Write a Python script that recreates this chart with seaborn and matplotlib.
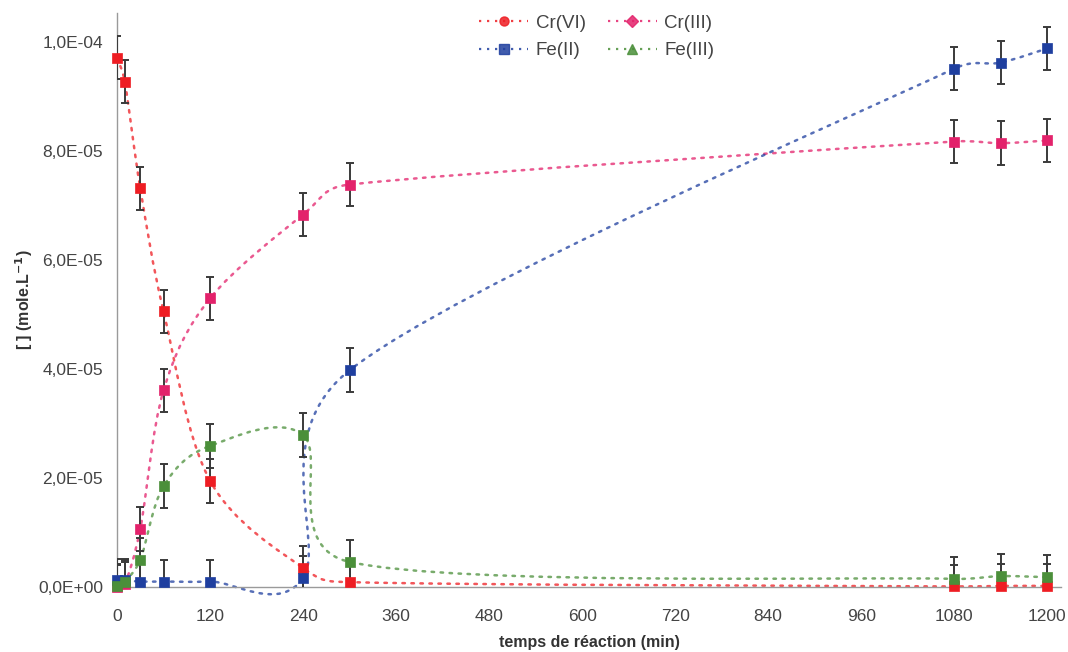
import matplotlib
matplotlib.use('Agg')
import matplotlib.pyplot as plt
from matplotlib.path import Path
from matplotlib.patches import PathPatch
from matplotlib.lines import Line2D
from matplotlib.ticker import FuncFormatter
import numpy as np
import seaborn as sns

# Data (concentrations in mole/L)
temps = [0, 10, 30, 60, 120, 240, 300, 1080, 1140, 1200]
cr6 = [9.72e-5, 9.28e-5, 7.32e-5, 5.06e-5, 1.95e-5, 3.5e-6, 9.0e-7, 1.0e-7, 2.0e-7, 2.0e-7]
cr3 = [0.0, 5.0e-7, 1.07e-5, 3.61e-5, 5.30e-5, 6.84e-5, 7.39e-5, 8.18e-5, 8.15e-5, 8.20e-5]
fe2 = [1.2e-6, 1.2e-6, 1.0e-6, 1.0e-6, 1.0e-6, 1.7e-6, 3.98e-5, 9.52e-5, 9.63e-5, 9.89e-5]
fe3 = [2.0e-7, 1.0e-6, 5.0e-6, 1.85e-5, 2.59e-5, 2.79e-5, 4.6e-6, 1.5e-6, 2.0e-6, 1.8e-6]
err = 4.0e-6

labels = ['Cr(VI)', 'Cr(III)', 'Fe(II)', 'Fe(III)']
series = [cr6, cr3, fe2, fe3]
colors = ['#ee1d23', '#e3226b', '#1f3f9f', '#4b8f3a']
leg_markers = ['o', 'D', 's', '^']

sns.set_theme(style='white')
plt.rcParams['font.family'] = ['Liberation Sans', 'DejaVu Sans']

fig = plt.figure(figsize=(10.68, 6.52), dpi=100)
ax = fig.add_axes([0.1096, 0.0997, 0.8840, 0.8803])
xmin, xmax = 0, 1218
ymin, ymax = 0, 1.054e-4
ax.set_xlim(xmin, xmax)
ax.set_ylim(ymin, ymax)

# pixels per data unit, used so the smoothing behaves like Excel's (screen space)
bb = ax.get_position()
sx = bb.width * fig.get_figwidth() * fig.dpi / (xmax - xmin)
sy = bb.height * fig.get_figheight() * fig.dpi / (ymax - ymin)


def excel_smooth(x, y):
    # Bezier path through the points, Excel "smoothed line" style
    p = np.column_stack([np.asarray(x, float) * sx, np.asarray(y, float) * sy])
    n = len(p)
    verts = [p[0]]
    codes = [Path.MOVETO]
    for i in range(n - 1):
        p0 = p[max(i - 1, 0)]
        p1 = p[i]
        p2 = p[i + 1]
        p3 = p[min(i + 2, n - 1)]
        d12 = np.hypot(*(p2 - p1))
        d02 = np.hypot(*(p2 - p0))
        d13 = np.hypot(*(p3 - p1))
        f1 = 1 / 6
        f2 = 1 / 6
        if d02 > 0 and d02 / 6 >= d12 / 2:
            f1 = d12 / d02 / 2
        if d13 > 0 and d13 / 6 >= d12 / 2:
            f2 = d12 / d13 / 2
        c1 = p1 + f1 * (p2 - p0)
        c2 = p2 - f2 * (p3 - p1)
        verts += [c1, c2, p2]
        codes += [Path.CURVE4] * 3
    verts = np.array(verts) / [sx, sy]
    return Path(verts, codes)


for vals, col, lab in zip(series, colors, labels):
    patch = PathPatch(excel_smooth(temps, vals), fill=False, edgecolor=col,
                      alpha=0.75, lw=1.8, linestyle=(0, (1, 2.6)), clip_on=False,
                      zorder=2, capstyle='round')
    ax.add_patch(patch)
    ax.errorbar(temps, vals, yerr=err, fmt='none', ecolor='#3a3a3a',
                elinewidth=1.4, capsize=3.2, capthick=1.4, zorder=3)
    sns.scatterplot(x=temps, y=vals, ax=ax, marker='s', s=62, color=col,
                    edgecolor=col, linewidth=0.5, clip_on=False, zorder=4)

# axes styling
ax.set_xticks(np.arange(0, 1201, 120))
ax.set_yticks(np.arange(0, 1.01e-4, 2e-5))
ax.yaxis.set_major_formatter(FuncFormatter(lambda v, pos: f'{v:.1E}'.replace('.', ',')))
for side in ['top', 'right']:
    ax.spines[side].set_visible(False)
for side in ['left', 'bottom']:
    ax.spines[side].set_color('#9a9a9a')
    ax.spines[side].set_linewidth(1.0)
ax.tick_params(axis='both', which='major', direction='out', length=4, width=1,
               color='#9a9a9a', labelsize=12.5, labelcolor='#444444')
ax.tick_params(axis='x', pad=12)
ax.tick_params(axis='y', pad=6)
ax.set_xlabel('temps de réaction (min)', fontsize=11.5, fontweight='bold',
              color='#333333', labelpad=8)
ax.set_ylabel('[ ] (mole.L$^{\\mathbf{-1}}$)', fontsize=11.5, fontweight='bold',
              color='#333333', labelpad=2)

# legend (two rows: Cr on top, Fe below)
handles = [Line2D([], [], color=c, alpha=0.85, lw=1.6, linestyle=(0, (1, 2.6)),
                  marker=m, markersize=6.5, markerfacecolor=c, markeredgecolor=c)
           for c, m in zip(colors, leg_markers)]
order = [0, 2, 1, 3]
fig.legend([handles[i] for i in order], [labels[i] for i in order],
           loc='upper left', bbox_to_anchor=(0.433, 1.003),
           ncol=2, frameon=False, fontsize=13.5, handlelength=2.6,
           handletextpad=0.4, columnspacing=1.2, labelspacing=0.55,
           labelcolor='#444444')

fig.savefig('out.png', dpi=100)
